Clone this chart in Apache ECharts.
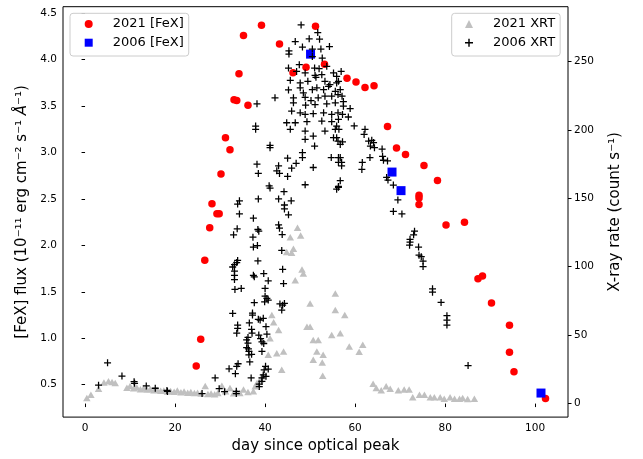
<!DOCTYPE html>
<html><head><meta charset="utf-8">
<script src="https://cdn.jsdelivr.net/npm/echarts@6/dist/echarts.min.js"></script>
<style>html,body{margin:0;padding:0;background:#fff}#c{width:643px;height:459px}</style>
</head><body><div id="c"></div>
<script>
// 2021 [FeX] (left axis)
const fex2021Day  = [24.7,25.7,26.6,27.7,28.2,29.3,29.8,30.2,31.2,32.2,33.1,33.7,34.2,35.2,36.2,39.2,43.2,46.2,49.1,51.2,53.2,58.2,60.2,62.2,64.2,67.2,69.2,71.2,74.2,74.2,74.2,75.3,78.3,80.2,84.3,87.3,88.3,90.3,94.3,94.3,95.3,102.3];
const fex2021Flux = [0.70,0.99,1.84,2.19,2.45,2.34,2.34,2.77,3.16,3.03,3.57,3.56,3.85,4.26,3.51,4.37,4.17,3.86,3.92,4.36,3.95,3.80,3.76,3.70,3.72,3.28,3.05,2.98,2.54,2.51,2.44,2.86,2.70,2.22,2.25,1.64,1.67,1.38,1.14,0.85,0.64,0.35];
// 2006 [FeX] (left axis)
const fex2006Day  = [50.1,68.2,70.2,101.3];
const fex2006Flux = [4.06,2.79,2.59,0.41];
// 2021 XRT (right axis)
const xrt2021Day  = [0.4,1.3,3.0,4.2,5.2,6.0,6.7,9.3,10.0,10.8,11.5,12.3,13.0,13.8,14.5,15.3,16.0,16.8,17.5,18.3,19.0,19.8,20.5,21.3,22.0,22.8,23.5,24.3,25.0,25.8,26.7,27.3,28.0,28.8,29.5,30.4,31.2,32.2,33.0,33.8,34.4,35.2,36.2,37.4,37.8,38.2,38.9,39.4,40.7,41.1,41.5,41.9,43.0,42.6,44.1,43.7,47.2,45.6,47.9,46.3,44.8,45.9,48.2,48.5,46.7,50.0,49.3,50.0,50.7,51.8,51.5,50.7,52.7,52.9,52.8,55.6,55.6,54.8,56.7,57.7,58.7,60.9,61.7,64.0,64.7,65.8,66.9,67.8,69.6,70.9,72.0,72.8,74.3,75.4,76.7,77.6,78.9,79.8,81.1,82.1,83.2,83.9,85.0,86.5];
const xrt2021Rate = [4.1,6.5,10.9,15.4,16.3,15.8,15.0,11.5,12.8,11.2,11.8,10.5,11.0,10.2,10.6,9.8,10.1,9.3,9.6,8.8,9.2,8.6,9.5,8.3,8.8,7.9,8.4,7.7,8.0,7.4,12.9,7.0,7.3,6.8,7.8,13.0,9.0,11.4,7.5,8.0,7.8,10.2,8.5,9.0,12.6,15.0,17.4,20.0,35.6,47.7,64.7,59.4,53.8,36.8,38.1,24.7,128.4,121.6,122.8,113.1,110.7,110.2,97.9,95.0,90.1,73.2,56.2,56.2,46.5,46.5,38.1,32.0,30.1,35.6,20.3,80.4,68.3,50.1,51.4,64.7,41.7,37.8,42.9,14.5,11.4,9.7,12.6,10.9,9.7,10.2,10.2,4.7,6.5,6.5,4.7,4.7,4.7,3.6,4.7,3.6,3.6,4.1,3.4,3.6];
// 2006 XRT (right axis)
const xrt2006Day  = [3.0,5.0,8.2,10.9,11.0,13.6,15.6,18.2,18.3,26.0,28.9,29.8,31.0,32.0,33.6,33.6,33.4,34.0,33.7,32.8,33.9,33.9,33.7,33.3,34.7,33.2,33.2,37.4,37.6,39.7,40.7,44.1,40.0,40.0,40.4,39.9,40.7,37.6,43.3,44.3,43.9,43.7,37.2,37.2,38.5,39.6,38.9,36.5,37.0,37.1,40.2,40.4,36.2,35.9,38.6,39.0,39.3,39.7,36.2,35.9,36.3,36.4,36.4,37.0,39.3,36.6,40.1,40.7,39.8,39.6,40.2,39.3,36.9,39.3,38.7,38.7,
  41.1,41.1,48.9,51.0,48.3,48.3,54.7,56.3,56.3,45.0,38.2,38.5,43.0,42.6,43.2,45.9,46.9,50.7,45.0,40.9,41.1,48.9,55.9,56.3,44.2,38.5,43.0,44.3,44.3,45.8,34.3,33.9,34.3,37.4,45.2,33.8,33.0,38.4,38.6,43.0,43.2,43.8,37.3,37.4,38.3,33.9,33.7,33.2,32.8,33.2,38.4,43.9,43.7,
  48.0,51.7,49.8,52.1,46.7,48.3,50.5,52.4,54.3,45.3,45.3,50.5,52.7,47.6,45.2,51.0,52.0,53.7,47.0,48.9,51.1,52.6,55.2,55.9,45.6,47.8,49.5,51.3,53.3,54.4,56.3,45.2,47.8,48.5,50.5,51.5,53.0,54.1,55.6,56.7,46.3,48.9,50.2,51.8,53.3,54.8,56.2,38.2,42.2,46.3,49.0,51.1,53.7,55.6,45.9,47.8,48.9,50.7,53.0,54.8,44.8,46.7,49.3,52.6,54.8,56.3,37.9,37.9,45.6,48.9,53.3,55.6,50.7,55.2,
  56.9,55.9,57.1,57.4,57.4,58.9,57.2,56.2,58.5,55.9,56.4,59.8,55.9,56.2,57.2,56.7,62.2,62.0,63.0,63.7,64.1,63.4,64.3,66.0,66.1,66.3,63.3,67.2,56.7,57.0,57.0,61.6,61.5,56.7,56.3,67.0,67.3,68.5,69.5,68.5,70.4,73.2,73.0,72.2,72.2,72.1,74.1,74.2,74.7,75.1,75.1,77.2,77.2,79.1,80.4,80.4,80.4,85.1];
const xrt2006Rate = [13.4,29.8,20.1,16.0,14.8,12.9,11.2,9.6,8.9,7.3,18.7,10.9,8.7,25.4,9.0,7.3,21.8,29.1,27.2,65.9,57.4,55.0,51.4,83.4,84.1,93.7,90.6,93.7,92.6,95.0,89.7,87.7,84.1,78.5,76.8,74.4,75.6,73.7,72.8,73.2,71.9,68.3,66.1,64.7,61.6,62.3,61.0,58.9,54.3,51.4,56.2,50.7,48.3,46.5,50.1,47.4,45.0,43.9,44.1,40.8,40.0,38.1,35.6,36.0,38.1,30.4,27.2,25.2,24.7,20.9,19.9,18.7,18.7,16.3,14.3,12.4,
  188.7,187.0,193.1,188.2,183.4,179.8,179.8,179.8,176.2,179.3,174.9,168.2,173.7,170.1,168.2,172.0,175.6,172.5,166.0,159.1,157.5,159.9,156.7,158.7,154.8,149.5,149.5,145.1,142.2,148.2,148.2,145.8,138.6,135.5,137.9,127.7,123.3,127.2,126.0,130.6,128.2,123.5,121.6,114.4,115.5,104.6,103.0,101.5,99.8,96.7,104.2,98.1,111.9,
  276.7,271.1,266.5,266.3,264.5,260.5,259.0,259.0,260.9,257.8,255.4,253.6,252.5,247.6,245.2,245.2,244.7,246.4,242.7,241.6,239.8,240.3,241.6,239.1,236.2,234.3,235.5,238.4,235.5,233.1,235.5,229.2,230.7,227.0,229.4,230.7,229.4,231.8,228.2,229.4,223.4,223.8,221.4,223.4,224.6,224.6,225.8,219.0,223.4,219.8,218.0,218.5,219.0,219.8,213.7,212.5,211.3,211.8,212.5,211.3,205.2,205.2,206.0,206.4,206.0,207.6,202.8,200.4,200.4,199.1,199.1,200.4,195.5,194.3,
  242.7,234.3,224.6,220.7,217.3,215.6,211.3,212.5,209.4,202.8,200.4,202.9,194.3,191.8,191.3,189.4,200.4,196.7,191.8,192.4,190.7,188.2,187.0,186.0,180.7,177.8,179.8,177.3,179.8,176.2,173.7,176.2,171.1,162.9,158.0,165.2,163.3,159.7,148.8,140.4,138.6,126.0,123.3,120.0,117.9,115.7,114.4,108.4,107.3,104.1,100.1,83.9,81.4,73.9,64.2,61.0,57.4,27.8];
// tick values
const xTicks = [0,20,40,60,80,100];
const leftTicks = [0.5,1.0,1.5,2.0,2.5,3.0,3.5,4.0,4.5];
const rightTicks = [0,50,100,150,200,250];

const zip = (a,b)=>a.map((v,i)=>[v,b[i]]);
const crossPath = 'path://M-0.9,-5H0.9V-0.9H5V0.9H0.9V5H-0.9V0.9H-5V-0.9H-0.9Z';
const FONT = 'DejaVu Sans';

const chart = echarts.init(document.getElementById('c'), null, {renderer:'canvas'});
const legendBase = {
  orient:'vertical', itemWidth:8, itemHeight:8, itemGap:4.7, selectedMode:false,
  backgroundColor:'rgba(255,255,255,0.8)', borderColor:'#cccccc', borderWidth:1, borderRadius:3,
  textStyle:{fontFamily:FONT, fontSize:13, color:'#000', lineHeight:14, padding:[0,0,0,15]}
};
const option = {
  animation:false,
  textStyle:{fontFamily:FONT},
  grid:{left:63,right:75,top:6.7,bottom:39.7,show:true,borderColor:'#000',borderWidth:1,backgroundColor:'transparent',containLabel:false},
  xAxis:{type:'value',min:-4.9,max:107.3,
    name:'day since optical peak',nameLocation:'middle',nameGap:19,
    nameTextStyle:{fontFamily:FONT,fontSize:15,color:'#000'},
    axisLine:{show:false},
    axisTick:{show:true,length:3.5,customValues:xTicks,lineStyle:{color:'#000',width:1}},
    axisLabel:{customValues:xTicks,fontFamily:FONT,fontSize:10.5,color:'#000',margin:6},
    splitLine:{show:false}},
  yAxis:[
    {type:'value',position:'left',min:0.151,max:4.571,
     name:'{n|[FeX] flux (10⁻¹¹ erg cm⁻² s⁻¹ }{i|Å}{n|⁻¹)}',nameLocation:'middle',nameRotate:90,nameGap:27,
     nameTextStyle:{fontFamily:FONT,fontSize:15,color:'#000',rich:{n:{fontFamily:FONT,fontSize:15,color:'#000'},i:{fontFamily:FONT,fontSize:15,fontStyle:'italic',color:'#000'}}},
     axisLine:{show:false},
     axisTick:{show:true,length:3.5,customValues:leftTicks,lineStyle:{color:'#000',width:1}},
     axisLabel:{customValues:leftTicks,fontFamily:FONT,fontSize:10.5,color:'#000',margin:6,formatter:v=>v.toFixed(1)},
     splitLine:{show:false}},
    {type:'value',position:'right',min:-9.88,max:290,
     name:'X-ray rate (count s⁻¹)',nameLocation:'middle',nameRotate:90,nameGap:40,
     nameTextStyle:{fontFamily:FONT,fontSize:15,color:'#000'},
     axisLine:{show:false},
     axisTick:{show:true,length:3.5,customValues:rightTicks,lineStyle:{color:'#000',width:1}},
     axisLabel:{customValues:rightTicks,fontFamily:FONT,fontSize:10.5,color:'#000',margin:6},
     splitLine:{show:false}}
  ],
  legend:[
    Object.assign({}, legendBase, {left:70, top:13.3, padding:[3.7,5,6.3,14.7],
      data:[{name:'2021 [FeX]',icon:'circle'},{name:'2006 [FeX]',icon:'rect'}]}),
    Object.assign({}, legendBase, {left:451.7, top:13.3, padding:[3.7,5,6.3,13.3],
      data:[{name:'2021 XRT',icon:'triangle'},{name:'2006 XRT',icon:crossPath}]})
  ],
  series:[
    {name:'2021 [FeX]',type:'scatter',yAxisIndex:0,symbol:'circle',symbolSize:7.5,silent:true,
     itemStyle:{color:'#ff0000',opacity:1},data:zip(fex2021Day,fex2021Flux),z:2},
    {name:'2006 [FeX]',type:'scatter',yAxisIndex:0,symbol:'rect',symbolSize:9,silent:true,
     itemStyle:{color:'#0000ff',opacity:1},data:zip(fex2006Day,fex2006Flux),z:2},
    {name:'2021 XRT',type:'scatter',yAxisIndex:1,symbol:'triangle',symbolSize:[7.5,6.5],silent:true,
     itemStyle:{color:'#c0c0c0',opacity:1},data:zip(xrt2021Day,xrt2021Rate),z:3},
    {name:'2006 XRT',type:'scatter',yAxisIndex:1,symbol:crossPath,symbolSize:7,silent:true,
     itemStyle:{color:'#000000',opacity:1},data:zip(xrt2006Day,xrt2006Rate),z:4}
  ]
};
chart.setOption(option);
</script></body></html>
